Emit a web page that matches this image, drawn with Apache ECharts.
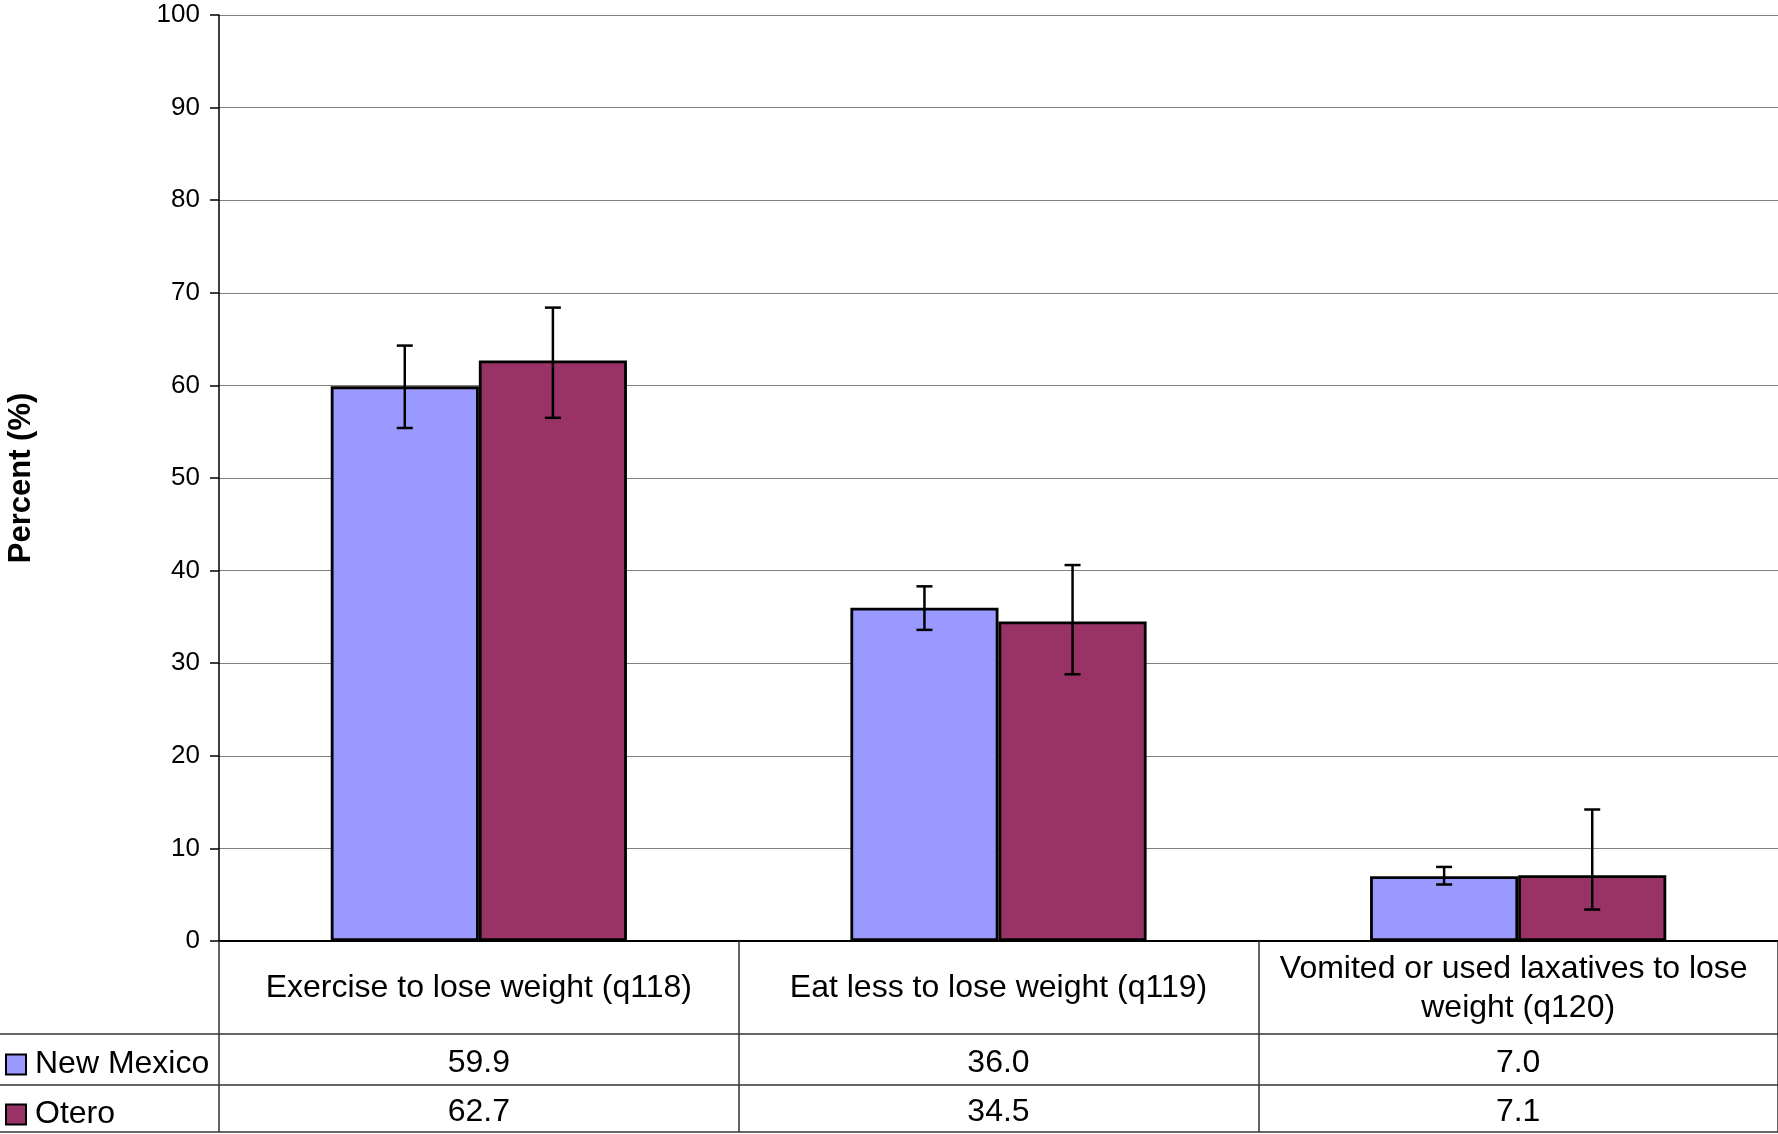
<!DOCTYPE html>
<html>
<head>
<meta charset="utf-8">
<script src="https://cdn.jsdelivr.net/npm/echarts@6/dist/echarts.min.js"></script>
<style>html,body{margin:0;padding:0;background:#fff;}#c{width:1778px;height:1134px;}</style>
</head>
<body>
<div id="c"></div>
<script>
const categories = ['Exercise to lose weight (q118)', 'Eat less to lose weight (q119)', 'Vomited or used laxatives to lose weight (q120)'];
const seriesNames = ['New Mexico', 'Otero'];
const nmValues = [59.9, 36.0, 7.0];
const oteroValues = [62.7, 34.5, 7.1];
const nmLow = [55.4, 33.6, 6.1];
const nmHigh = [64.3, 38.3, 8.0];
const oteroLow = [56.5, 28.8, 3.4];
const oteroHigh = [68.4, 40.6, 14.2];
const yTicks = {min: 0, max: 100, interval: 10};

const FONT = 'Liberation Sans, Arial, sans-serif';
const BAR_FRAC = 0.285;
const gridBox = {left: 219, right: 0, top: 15, bottom: 193, outerBoundsMode: 'none', containLabel: false};
const ROW1 = 93, ROW2 = 51, ROW3 = 47;

function errRender(sign) {
  return function (params, api) {
    const idx = api.value(0);
    const lo = api.coord([idx, api.value(1)]);
    const hi = api.coord([idx, api.value(2)]);
    const bandW = api.size([1, 0])[0];
    const x = lo[0] + sign * bandW * BAR_FRAC / 2;
    const cap = 8;
    const st = {stroke: '#000', lineWidth: 2.5};
    return {type: 'group', children: [
      {type: 'line', shape: {x1: x, y1: hi[1], x2: x, y2: lo[1]}, style: st},
      {type: 'line', shape: {x1: x - cap, y1: hi[1], x2: x + cap, y2: hi[1]}, style: st},
      {type: 'line', shape: {x1: x - cap, y1: lo[1], x2: x + cap, y2: lo[1]}, style: st}
    ]};
  };
}

const chart = echarts.init(document.getElementById('c'), null, {renderer: 'canvas'});
const valueAxis = (gi, values) => ({
  type: 'category', gridIndex: gi, data: categories, position: 'bottom',
  axisLine: {show: false}, axisTick: {show: false}, splitLine: {show: false},
  axisLabel: {
    interval: 0, fontFamily: FONT, fontSize: 32, color: '#000', verticalAlign: 'middle',
    margin: gi === 1 ? ROW1 + ROW2 / 2 + 4 : ROW1 + ROW2 + ROW3 / 2 + 4,
    formatter: (v, i) => values[i].toFixed(1)
  }
});
const option = {
  backgroundColor: '#fff',
  animation: false,
  grid: [Object.assign({}, gridBox), Object.assign({}, gridBox), Object.assign({}, gridBox)],
  legend: {
    data: seriesNames, orient: 'vertical', left: 5, top: 941 + ROW1 + ROW2 / 2 - 11,
    padding: 0, icon: 'rect', itemWidth: 20, itemHeight: 20, itemGap: 18,
    textStyle: {fontFamily: FONT, fontSize: 32, color: '#000', lineHeight: 32, padding: [0, 0, 0, 4]}
  },
  xAxis: [
    {
      type: 'category', gridIndex: 0, data: categories,
      axisLine: {show: true, lineStyle: {color: '#000', width: 2}},
      axisTick: {show: true, length: ROW1 + ROW2 + ROW3, lineStyle: {color: '#333', width: 1.5}},
      splitLine: {show: false},
      axisLabel: {
        interval: 0, fontFamily: FONT, fontSize: 32, color: '#000', verticalAlign: 'middle',
        margin: ROW1 / 2 + 1, width: 500, overflow: 'break', lineHeight: 39, align: 'center'
      }
    },
    valueAxis(1, nmValues),
    valueAxis(2, oteroValues)
  ],
  yAxis: [
    {
      type: 'value', gridIndex: 0, min: yTicks.min, max: yTicks.max, interval: yTicks.interval,
      name: 'Percent (%)', nameLocation: 'middle', nameGap: 182, nameRotate: 90,
      nameTextStyle: {fontFamily: FONT, fontSize: 31, fontWeight: 'bold', color: '#000'},
      axisLine: {show: true, lineStyle: {color: '#000', width: 1.5}},
      axisTick: {show: true, length: 9, lineStyle: {color: '#000', width: 1.5}},
      axisLabel: {fontFamily: FONT, fontSize: 26, color: '#000', margin: 19},
      splitLine: {show: true, lineStyle: {color: '#808080', width: 1.2}}
    },
    {type: 'value', gridIndex: 1, show: false, min: 0, max: 100},
    {type: 'value', gridIndex: 2, show: false, min: 0, max: 100}
  ],
  series: [
    {
      name: seriesNames[0], type: 'bar', xAxisIndex: 0, yAxisIndex: 0, data: nmValues,
      barWidth: (BAR_FRAC * 100) + '%', barGap: '0%',
      itemStyle: {color: '#9999FF', borderColor: '#000', borderWidth: 2.8}
    },
    {
      name: seriesNames[1], type: 'bar', xAxisIndex: 0, yAxisIndex: 0, data: oteroValues,
      barWidth: (BAR_FRAC * 100) + '%', barGap: '0%',
      itemStyle: {color: '#993366', borderColor: '#000', borderWidth: 2.8}
    },
    {
      type: 'custom', xAxisIndex: 0, yAxisIndex: 0, z: 5, renderItem: errRender(-1),
      data: nmLow.map((l, i) => [i, l, nmHigh[i]])
    },
    {
      type: 'custom', xAxisIndex: 0, yAxisIndex: 0, z: 5, renderItem: errRender(1),
      data: oteroLow.map((l, i) => [i, l, oteroHigh[i]])
    }
  ]
};
chart.setOption(option);

// table horizontal rules, placed from the axis scale
const y0 = chart.convertToPixel({yAxisIndex: 0}, 0);
const W = chart.getWidth();
const rule = (y) => ({type: 'line', shape: {x1: 0, y1: y, x2: W, y2: y}, style: {stroke: '#333', lineWidth: 1.5}, z: 10});
chart.setOption({graphic: [
  rule(y0 + ROW1),
  rule(y0 + ROW1 + ROW2),
  rule(y0 + ROW1 + ROW2 + ROW3)
]});
</script>
</body>
</html>
